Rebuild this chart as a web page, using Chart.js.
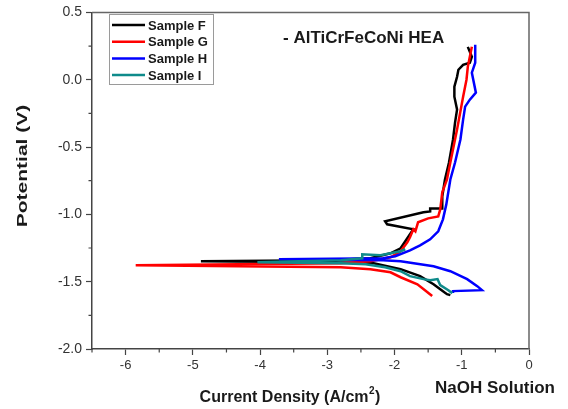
<!DOCTYPE html>
<html><head><meta charset="utf-8">
<script src="https://cdn.jsdelivr.net/npm/chart.js@4.4.0/dist/chart.umd.min.js"></script>
<style>html,body{margin:0;padding:0;background:#fff;}#wrap{width:568px;height:409px;}</style>
</head><body><div id="wrap"><canvas id="c" width="568" height="409"></canvas></div>
<script>
const seriesNames = ['Sample F', 'Sample G', 'Sample H', 'Sample I'];
const seriesColors = ['#000000', '#ff0000', '#0000ff', '#0f8b8b'];

const fX = [-1.17,-1.22,-1.32,-1.42,-1.62,-1.91,-2.31,-2.95,-4.88,-2.95,-2.36,-2.06,-1.91,-1.84,-1.72,-2.11,-2.14,-1.57,-1.47,-1.47,-1.29,-1.29,-1.25,-1.19,-1.13,-1.10,-1.07,-1.11,-1.11,-1.07,-1.05,-0.98,-0.88,-0.85,-0.91];
const fY = [-1.600,-1.593,-1.556,-1.519,-1.459,-1.407,-1.363,-1.356,-1.348,-1.341,-1.326,-1.289,-1.252,-1.200,-1.111,-1.074,-1.052,-0.985,-0.978,-0.956,-0.956,-0.867,-0.741,-0.615,-0.444,-0.319,-0.222,-0.126,-0.052,0.022,0.074,0.111,0.126,0.170,0.244];

const gX = [-1.44,-1.51,-1.66,-1.91,-2.06,-2.36,-2.80,-5.85,-2.80,-2.36,-2.06,-1.91,-1.81,-1.77,-1.72,-1.69,-1.65,-1.50,-1.35,-1.32,-1.29,-1.22,-1.17,-1.07,-0.98,-0.93,-0.91,-0.85];
const gY = [-1.607,-1.578,-1.519,-1.467,-1.430,-1.407,-1.393,-1.378,-1.363,-1.348,-1.319,-1.274,-1.207,-1.170,-1.111,-1.126,-1.059,-1.030,-1.015,-0.963,-0.837,-0.741,-0.615,-0.370,-0.126,0.0,0.096,0.244];

const hX = [-1.13,-1.13,-0.70,-0.77,-0.92,-1.17,-1.42,-1.91,-2.17,-3.72,-2.17,-1.99,-1.77,-1.62,-1.47,-1.35,-1.28,-1.23,-1.17,-1.10,-1.02,-0.98,-0.95,-0.88,-0.79,-0.85,-0.80,-0.80];
const hY = [-1.585,-1.570,-1.563,-1.533,-1.481,-1.422,-1.385,-1.348,-1.341,-1.333,-1.326,-1.311,-1.267,-1.230,-1.185,-1.126,-1.037,-0.926,-0.741,-0.615,-0.444,-0.296,-0.200,-0.148,-0.096,0.052,0.126,0.259];

const iX = [-1.14,-1.20,-1.32,-1.36,-1.47,-1.57,-1.77,-1.91,-2.14,-2.43,-2.80,-4.04,-2.80,-2.48,-2.48,-2.21,-1.91,-1.84];
const iY = [-1.585,-1.563,-1.526,-1.481,-1.489,-1.481,-1.459,-1.422,-1.393,-1.370,-1.363,-1.356,-1.341,-1.326,-1.296,-1.304,-1.274,-1.259];

const xMajor = [-6, -5, -4, -3, -2, -1, 0];
const xMinor = [-6.5, -5.5, -4.5, -3.5, -2.5, -1.5, -0.5];
const yMajor = [-2.0, -1.5, -1.0, -0.5, 0.0, 0.5];
const yMinor = [-1.75, -1.25, -0.75, -0.25, 0.25];

const xTitle = 'Current Density (A/cm';
const xTitleSup = '2';
const yTitle = 'Potential (V)';
const annotation = '- AlTiCrFeCoNi HEA';
const solution = 'NaOH Solution';

function pts(xs, ys) { return xs.map((x, i) => ({x: x, y: ys[i]})); }
const allX = [fX, gX, hX, iX];
const allY = [fY, gY, hY, iY];
const drawOrder = [4, 3, 2, 1];

const datasets = seriesNames.map((n, k) => ({
  label: n,
  data: pts(allX[k], allY[k]),
  showLine: true,
  borderColor: seriesColors[k],
  backgroundColor: seriesColors[k],
  borderWidth: 2.5,
  pointRadius: 0,
  tension: 0,
  order: drawOrder[k]
}));

const FONT = '"Liberation Sans", Arial, sans-serif';
const AXC = '#444';

const extras = {
  id: 'extras',
  afterDraw(chart) {
    const ctx = chart.ctx, a = chart.chartArea;
    const xs = chart.scales.x, ys = chart.scales.y;
    ctx.save();
    ctx.strokeStyle = '#666'; ctx.lineWidth = 1.5;
    ctx.beginPath();
    ctx.moveTo(a.left, a.top); ctx.lineTo(a.right, a.top); ctx.lineTo(a.right, a.bottom);
    ctx.stroke();
    ctx.strokeStyle = AXC; ctx.lineWidth = 1.2;
    ctx.beginPath();
    xMinor.forEach(v => { const p = xs.getPixelForValue(v); ctx.moveTo(p, a.bottom); ctx.lineTo(p, a.bottom + 3.5); });
    yMinor.forEach(v => { const p = ys.getPixelForValue(v); ctx.moveTo(a.left - 3.5, p); ctx.lineTo(a.left, p); });
    ctx.stroke();
    ctx.strokeStyle = '#9a9a9a'; ctx.lineWidth = 1;
    ctx.strokeRect(109.5, 14.5, 104, 70);
    ctx.font = 'bold 13px ' + FONT; ctx.textBaseline = 'middle'; ctx.textAlign = 'left';
    seriesNames.forEach((n, k) => {
      const y = 25 + k * 16.7;
      ctx.strokeStyle = seriesColors[k]; ctx.lineWidth = 2.5;
      ctx.beginPath(); ctx.moveTo(112, y); ctx.lineTo(145, y); ctx.stroke();
      ctx.fillStyle = '#1a1a1a'; ctx.fillText(n, 148, y + 1);
    });
    ctx.fillStyle = '#1a1a1a';
    ctx.font = 'bold 17px ' + FONT;
    ctx.fillText(annotation, 283, 38);
    ctx.textAlign = 'center';
    ctx.fillText(solution, 495, 388);
    ctx.font = 'bold 16px ' + FONT;
    const w1 = ctx.measureText(xTitle).width;
    ctx.font = 'bold 10px ' + FONT;
    const w2 = ctx.measureText(xTitleSup).width;
    ctx.font = 'bold 16px ' + FONT;
    const w3 = ctx.measureText(')').width;
    const total = w1 + w2 + w3 + 1;
    let sx = 290 - total / 2;
    ctx.textAlign = 'left';
    ctx.fillText(xTitle, sx, 398);
    ctx.font = 'bold 10px ' + FONT;
    ctx.fillText(xTitleSup, sx + w1 + 0.5, 391);
    ctx.font = 'bold 16px ' + FONT;
    ctx.fillText(')', sx + w1 + w2 + 1, 398);
    ctx.translate(23, 166); ctx.rotate(-Math.PI / 2);
    ctx.scale(1.4, 1);
    ctx.font = 'bold 15px ' + FONT;
    ctx.textAlign = 'center';
    ctx.fillText(yTitle, 0, 0);
    ctx.restore();
  }
};

new Chart(document.getElementById('c'), {
  type: 'scatter',
  data: { datasets: datasets },
  options: {
    responsive: false,
    animation: false,
    layout: { padding: { left: 0, top: 12, right: 39, bottom: 0 } },
    plugins: { legend: { display: false }, tooltip: { enabled: false } },
    scales: {
      x: {
        type: 'linear', min: -6.5, max: 0,
        afterBuildTicks: s => { s.ticks = xMajor.map(v => ({value: v})); },
        afterFit: s => { s.height = 60; },
        ticks: { font: { family: FONT, size: 13 }, color: '#333', padding: 3, maxRotation: 0, callback: v => String(v) },
        grid: { drawOnChartArea: false, tickLength: 6, tickColor: AXC, tickWidth: 1.2 },
        border: { color: AXC, width: 1.5 }
      },
      y: {
        type: 'linear', min: -2, max: 0.5,
        afterBuildTicks: s => { s.ticks = yMajor.map(v => ({value: v})); },
        afterFit: s => { s.width = 92; },
        ticks: { font: { family: FONT, size: 14 }, color: '#333', padding: 4, callback: v => Number(v).toFixed(1) },
        grid: { drawOnChartArea: false, tickLength: 6, tickColor: AXC, tickWidth: 1.2 },
        border: { color: AXC, width: 1.5 }
      }
    }
  },
  plugins: [extras]
});
</script></body></html>
